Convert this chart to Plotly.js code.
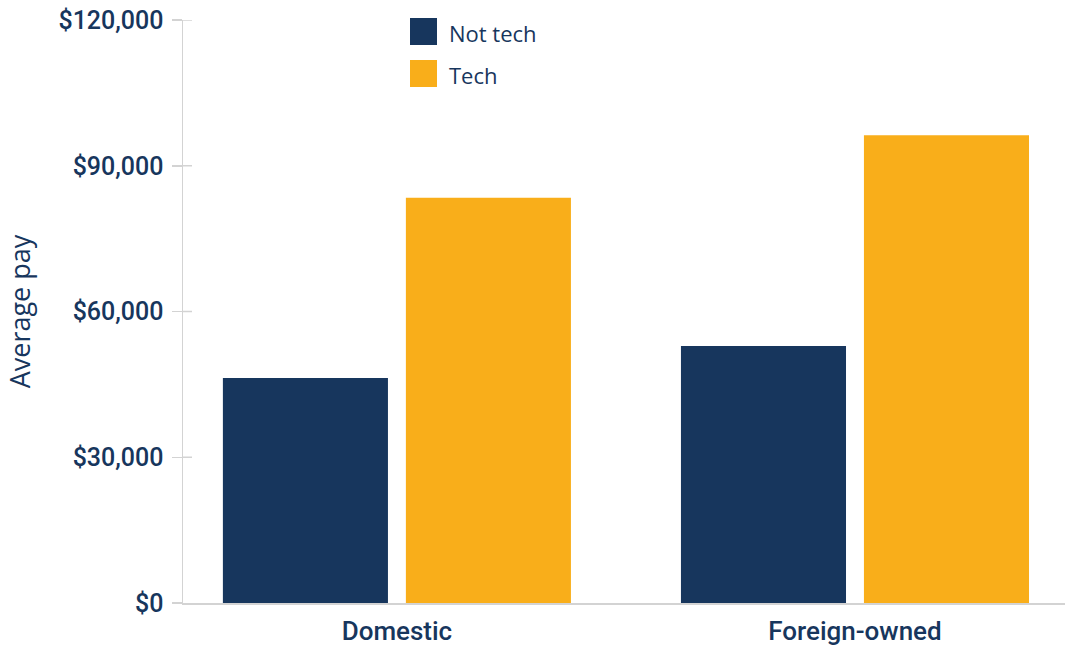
<!DOCTYPE html>
<html><head><meta charset="utf-8">
<script src="https://cdn.plot.ly/plotly-3.0.1.min.js"></script>
<style>html,body{margin:0;padding:0;background:#fff}#chart{width:1065px;height:652px}</style>
</head><body><div id="chart"></div>
<script>
const categories = ["Domestic", "Foreign-owned"];
const seriesNames = ["Not tech", "Tech"];
const notTech = [46300, 52900];
const tech = [83400, 96300];
const yTickVals = [0, 30000, 60000, 90000, 120000];
const yTickText = ["$0", "$30,000", "$60,000", "$90,000", "$120,000"];

const navy = "#17365D";
const orange = "#F9AE1A";
const axisGray = "#D3D3D3";

const traces = [
  {type: "bar", name: seriesNames[0], x: categories, y: notTech, marker: {color: navy}, showlegend: false, hoverinfo: "x+y"},
  {type: "bar", name: seriesNames[1], x: categories, y: tech, marker: {color: orange}, showlegend: false, hoverinfo: "x+y"}
];

const legendColors = [navy, orange];
const shapes = [];
const annotations = [];
seriesNames.forEach((n, i) => {
  const top = 18 + i * 42;
  shapes.push({type: "rect", xref: "paper", yref: "paper",
    x0: (410 - 183) / 882, x1: (437 - 183) / 882,
    y0: (603 - (top + 27)) / 583, y1: (603 - top) / 583,
    fillcolor: legendColors[i], line: {width: 0}});
  annotations.push({xref: "paper", yref: "paper", x: (447 - 183) / 882, y: (603 - (top + 15)) / 583,
    xanchor: "left", yanchor: "middle", showarrow: false, text: n,
    font: {family: "Open Sans", size: 22, color: navy}});
});
// inner half of the y tick marks (axis decoration)
yTickVals.slice(1).forEach(v => {
  shapes.push({type: "line", xref: "paper", yref: "y", x0: 0, x1: 9 / 882, y0: v, y1: v,
    line: {color: axisGray, width: 1.5}});
});

const layout = {
  width: 1065, height: 652,
  margin: {l: 183, r: 0, t: 20, b: 49},
  paper_bgcolor: "#fff", plot_bgcolor: "#fff",
  barmode: "group", bargap: 0.201, bargroupgap: 0.098,
  showlegend: false,
  xaxis: {range: [-0.467, 1.4585], showgrid: false, zeroline: false,
    showline: true, linecolor: axisGray, linewidth: 1.5, ticks: "",
    tickfont: {family: "Roboto", size: 26, color: navy, weight: 500},
    ticklabelstandoff: 4},
  yaxis: {range: [0, 120000], tickvals: yTickVals, ticktext: yTickText,
    showgrid: false, zeroline: false, showline: true, linecolor: axisGray, linewidth: 1.5,
    ticks: "outside", ticklen: 10, tickcolor: axisGray, tickwidth: 1.5,
    tickfont: {family: "Roboto", size: 25, color: navy, weight: 500},
    ticklabelstandoff: 3,
    title: {text: "Average pay", font: {family: "Open Sans", size: 27, color: navy}, standoff: 20}},
  shapes: shapes,
  annotations: annotations
};

Plotly.newPlot("chart", traces, layout, {displayModeBar: false, staticPlot: true});
</script></body></html>
